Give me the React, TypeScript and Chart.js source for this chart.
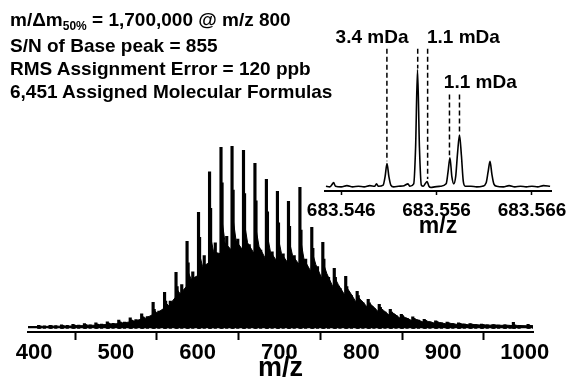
import React, { useEffect, useRef } from "react";
import { Chart, registerables } from "chart.js";
Chart.register(...registerables);

// ---------- main spectrum data ----------
const MAIN_TICKS = [400, 500, 600, 700, 800, 900, 1000];
const MAIN_X_MIN = 392.5;
const MAIN_X_MAX = 1010;
const EDGE_I = [1.0, 1.4]; // baseline level at the two ends of the range

// CH2 series clusters (m/z of the main peak of each cluster)
const CL_MZ = [405.5, 419.5, 433.5, 447.5, 461.5, 475.5, 489.5, 503.5, 517.5, 531.5, 545.5, 559.5, 573.5, 587, 601, 614.5, 628.5, 642, 656, 670, 684, 697.5, 711, 725, 739.5, 753, 767, 781, 795, 808.5, 822, 835.5, 849, 863, 877, 891, 905, 919, 933, 947, 961, 975, 986, 1004];
// main peak heights
const CL_H1 = [1.6, 1.7, 1.9, 2.2, 2.6, 3.0, 3.6, 4.5, 5.8, 8.0, 14.3, 19.8, 30.8, 47.8, 63.7, 86, 99.5, 100, 97.8, 90.7, 81.9, 75.3, 69.8, 77.5, 55.5, 47.3, 33, 28.6, 20.3, 16, 13.2, 10.4, 7.7, 6.3, 5.0, 4.2, 3.5, 3.0, 2.6, 2.3, 2.1, 2.0, 3.3, 2.2];
// companion peak (+1.3 m/z)
const CL_H2 = [1.3, 1.4, 1.5, 1.8, 2.1, 2.4, 2.9, 3.6, 4.6, 6.4, 10.5, 15, 23, 36, 50, 66, 80, 76, 74, 70, 64, 58, 56, 54, 44, 38, 28, 23, 18, 14, 11.5, 9, 7, 5.5, 4.4, 3.7, 3.1, 2.7, 2.4, 2.1, 1.9, 1.8, 1.8, 1.6];
// odd-mass peak between clusters (+7 m/z)
const CL_H4 = [1.4, 1.5, 1.6, 1.8, 2.0, 2.3, 2.8, 3.5, 4.8, 6.5, 9.5, 15, 24, 31, 40, 47, 50.5, 49, 46, 43, 42, 41, 40, 38, 34, 28, 22, 18, 14, 11, 9, 7, 5.5, 4.5, 3.6, 3.0, 2.6, 2.3, 2.1, 1.9, 1.8, 1.7, 1.6, 1.5];
// unresolved floor: valley just before each cluster, wedge top at the cluster, mid level after it
const CL_V = [1.0, 1.1, 1.2, 1.3, 1.5, 1.7, 2.1, 2.6, 3.5, 5.0, 7.5, 11, 17, 23, 29, 36, 41, 43, 43, 41, 38, 37, 36, 35, 31, 27, 22, 18, 14, 11.5, 9, 7, 5.3, 4.2, 3.4, 2.8, 2.4, 2.1, 1.9, 1.8, 1.7, 1.6, 1.5, 1.4];
const CL_W = [1.3, 1.4, 1.5, 1.7, 2.0, 2.3, 2.8, 3.4, 4.5, 6.3, 10, 14.5, 22, 32, 42, 52, 62, 63, 60, 57, 53, 51, 49, 50, 42, 36, 28, 23, 17.5, 14, 11.5, 9, 6.8, 5.4, 4.3, 3.6, 3.0, 2.6, 2.3, 2.1, 1.9, 1.8, 1.8, 1.7];
const CL_M = [1.1, 1.2, 1.3, 1.5, 1.7, 2.0, 2.4, 3.0, 4.0, 5.6, 8.5, 12.5, 19, 27, 34, 42, 47, 48, 47, 45, 42, 41, 40, 38, 35, 30, 24, 20, 15.5, 12.5, 10, 8, 6, 4.8, 3.8, 3.2, 2.7, 2.4, 2.1, 1.9, 1.8, 1.7, 1.6, 1.5];
const OFF_V = -0.8;
const OFF_W = 0.4;
const OFF_M = 5;
const OFF_H2 = 1.3;
const OFF_H4 = 7;

// ---------- inset (zoom) data ----------
const INSET_TICKS = [683.546, 683.556, 683.566];
const INSET_X_MIN = 683.5443;
const INSET_X_MAX = 683.568;
const INSET_MZ = [
  683.5444, 683.5448, 683.5450, 683.5452, 683.5454, 683.5460, 683.5466, 683.5472, 683.5478, 683.5484,
  683.5490, 683.5495, 683.5497, 683.5499, 683.5504, 683.5506, 683.5508, 683.5510, 683.5512, 683.5515,
  683.5520, 683.5526, 683.5530, 683.5532, 683.5536, 683.5538, 683.5540, 683.5542, 683.5544, 683.5546,
  683.5548, 683.5550, 683.5552, 683.5554, 683.5558, 683.5564, 683.5570, 683.5572, 683.5574, 683.5576,
  683.5578, 683.5580, 683.5582, 683.5584, 683.5586, 683.5588, 683.5590, 683.5596, 683.5602, 683.5608,
  683.5612, 683.5614, 683.5616, 683.5618, 683.5620, 683.5623, 683.5630, 683.5636, 683.5642, 683.5648,
  683.5654, 683.5660, 683.5666, 683.5672, 683.5679,
];
const INSET_I = [
  2, 1.5, 3, 5, 2, 1.5, 2.5, 1.5, 2, 1.5,
  2.5, 2, 4, 2, 3, 10, 21, 10, 3, 1.5,
  2, 2.5, 4, 2, 4, 35, 100, 35, 3, 2,
  4, 6, 2, 1, 1.5, 2, 4, 14, 26, 10,
  4, 10, 30, 45, 28, 6, 2, 2, 1.5, 2,
  5, 14, 23, 12, 4, 2, 1.5, 2.5, 1.5, 2,
  1.5, 2, 1.5, 2.5, 2,
];
const DASH_MZ = [683.55079, 683.55402, 683.55506, 683.55735, 683.5584];
const DASH_TOP = [117.6, 117.6, 117.6, 79, 79];
const DASH_BOT = [23, 101, 8, 28, 47];
const LABEL_TEXT = ["3.4 mDa", "1.1 mDa", "1.1 mDa"];
const LABEL_MZ = [683.54923, 683.55881, 683.56058];
const LABEL_Y = [127, 127, 89];

const FONT = "Arial, 'Liberation Sans', sans-serif";

export default function App() {
  const mainRef = useRef<HTMLCanvasElement>(null);
  const insetRef = useRef<HTMLCanvasElement>(null);

  useEffect(() => {
    const env: { x: number; y: number }[] = [{ x: MAIN_X_MIN, y: EDGE_I[0] }];
    CL_MZ.forEach((mz, i) => {
      env.push({ x: mz + OFF_V, y: CL_V[i] });
      env.push({ x: mz + OFF_W, y: CL_W[i] });
      env.push({ x: mz + OFF_M, y: CL_M[i] });
    });
    env.push({ x: MAIN_X_MAX, y: EDGE_I[1] });

    const bars: { x: number; y: number }[] = [];
    CL_MZ.forEach((mz, i) => {
      bars.push({ x: mz, y: CL_H1[i] });
      bars.push({ x: mz + OFF_H2, y: CL_H2[i] });
      bars.push({ x: mz + OFF_H4, y: CL_H4[i] });
    });

    const main = new Chart(mainRef.current!, {
      type: "bar",
      data: {
        datasets: [
          {
            type: "bar",
            data: bars,
            backgroundColor: "#000",
            borderWidth: 0,
            barThickness: 2.5,
            grouped: false,
            order: 1,
          } as any,
          {
            type: "line",
            data: env,
            borderColor: "#000",
            backgroundColor: "#000",
            borderWidth: 1,
            pointRadius: 0,
            fill: "origin",
            tension: 0,
            order: 2,
          } as any,
        ],
      },
      options: {
        responsive: false,
        animation: false,
        events: [],
        layout: { padding: { left: 28, right: 39, top: 142.7, bottom: 0 } },
        plugins: { legend: { display: false }, tooltip: { enabled: false } },
        scales: {
          x: {
            type: "linear",
            min: MAIN_X_MIN,
            max: MAIN_X_MAX,
            offset: false,
            afterBuildTicks: (s: any) => {
              s.ticks = MAIN_TICKS.map((v) => ({ value: v }));
            },
            afterFit: (s: any) => {
              s.height = 53;
            },
            grid: { display: true, drawOnChartArea: false, drawTicks: true, tickLength: 8, tickWidth: 2, tickColor: "#000" },
            border: { display: true, width: 2, color: "#000" },
            ticks: {
              color: "#000",
              font: { family: FONT, size: 22, weight: "bold" },
              padding: 0,
              maxRotation: 0,
              autoSkip: false,
              callback: (v: any) => String(v),
            },
            title: {
              display: true,
              text: "m/z",
              color: "#000",
              font: { family: FONT, size: 27, weight: "bold" },
              padding: { top: 0, bottom: 0 },
            },
          },
          y: { type: "linear", display: false, min: -2, max: 102 },
        },
      } as any,
    });

    const profile = INSET_MZ.map((x, i) => ({ x, y: INSET_I[i] }));
    const dashSets = DASH_MZ.map((mz, i) => ({
      type: "line",
      data: [
        { x: mz, y: DASH_TOP[i] },
        { x: mz, y: DASH_BOT[i] },
      ],
      borderColor: "#000",
      borderWidth: 1.5,
      borderDash: [5, 3],
      pointRadius: 0,
      fill: false,
    }));

    const labelPlugin = {
      id: "insetLabels",
      afterDatasetsDraw(chart: any) {
        const { ctx, scales } = chart;
        ctx.save();
        ctx.fillStyle = "#000";
        ctx.font = `bold 19px ${FONT}`;
        ctx.textAlign = "center";
        ctx.textBaseline = "middle";
        LABEL_TEXT.forEach((t, i) => {
          ctx.fillText(t, scales.x.getPixelForValue(LABEL_MZ[i]), scales.y.getPixelForValue(LABEL_Y[i]));
        });
        ctx.restore();
      },
    };

    const inset = new Chart(insetRef.current!, {
      type: "line",
      data: {
        datasets: [
          {
            data: profile,
            borderColor: "#000",
            borderWidth: 1.6,
            pointRadius: 0,
            fill: false,
            cubicInterpolationMode: "monotone",
          } as any,
          ...(dashSets as any[]),
        ],
      },
      options: {
        responsive: false,
        animation: false,
        events: [],
        layout: { padding: { left: 25, right: 20, top: 45, bottom: 0 } },
        plugins: { legend: { display: false }, tooltip: { enabled: false } },
        scales: {
          x: {
            type: "linear",
            min: INSET_X_MIN,
            max: INSET_X_MAX,
            afterBuildTicks: (s: any) => {
              s.ticks = INSET_TICKS.map((v) => ({ value: v }));
            },
            afterFit: (s: any) => {
              s.height = 59;
            },
            grid: { display: true, drawOnChartArea: false, drawTicks: true, tickLength: 4, tickWidth: 1.5, tickColor: "#000" },
            border: { display: true, width: 2, color: "#000" },
            ticks: {
              color: "#000",
              font: { family: FONT, size: 19, weight: "bold" },
              padding: 4,
              maxRotation: 0,
              autoSkip: false,
              callback: (v: any) => Number(v).toFixed(3),
            },
            title: {
              display: true,
              text: "m/z",
              color: "#000",
              font: { family: FONT, size: 23, weight: "bold" },
              padding: { top: 0, bottom: 10 },
            },
          },
          y: { type: "linear", display: false, min: -2, max: 120.7 },
        },
      } as any,
      plugins: [labelPlugin],
    });

    return () => {
      main.destroy();
      inset.destroy();
    };
  }, []);

  return (
    <div style={{ position: "fixed", left: 0, top: 0, width: 572, height: 385, background: "#fff", overflow: "hidden" }}>
      <canvas ref={mainRef} width={572} height={385} style={{ position: "absolute", left: 0, top: 0 }} />
      <div
        style={{
          position: "absolute",
          left: 10,
          top: 8,
          font: `bold 19px ${FONT}`,
          lineHeight: "23px",
          color: "#000",
          whiteSpace: "nowrap",
        }}
      >
        <div>
          m/Δm
          <span style={{ fontSize: 12, position: "relative", top: 4 }}>50%</span> = 1,700,000 @ m/z 800
        </div>
        <div>S/N of Base peak = 855</div>
        <div>RMS Assignment Error = 120 ppb</div>
        <div>6,451 Assigned Molecular Formulas</div>
      </div>
      <canvas ref={insetRef} width={272} height={250} style={{ position: "absolute", left: 300, top: 0 }} />
    </div>
  );
}
